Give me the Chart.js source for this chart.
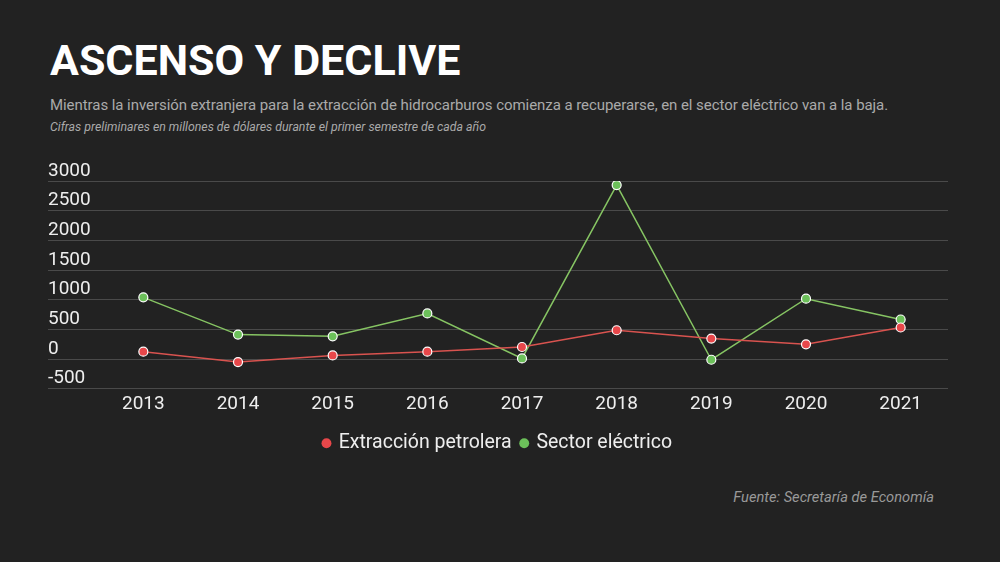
<!DOCTYPE html>
<html lang="es">
<head>
<meta charset="utf-8">
<title>Ascenso y declive</title>
<script src="https://cdn.jsdelivr.net/npm/chart.js@4"></script>
<style>
    html, body {
        margin: 0;
        padding: 0;
        width: 1000px;
        height: 562px;
        background: #222222;
        font-family: Roboto, "Noto Sans", sans-serif;
        overflow: hidden;
    }
    .txt {
        position: absolute;
        white-space: nowrap;
    }
    #titulo {
        left: 50px;
        top: 39px;
        font-size: 43px;
        line-height: 43px;
        font-weight: 700;
        color: #ffffff;
    }
    #bajada {
        left: 50px;
        top: 98px;
        font-size: 15px;
        line-height: 15px;
        letter-spacing: -0.06px;
        color: #aaaaaa;
    }
    #nota {
        left: 50px;
        top: 121px;
        font-size: 12.3px;
        line-height: 12px;
        font-style: italic;
        color: #aaaaaa;
    }
    #fuente {
        right: 66px;
        top: 490px;
        font-size: 14.7px;
        line-height: 14px;
        font-style: italic;
        color: #999999;
    }
    #wrap {
        position: absolute;
        left: 0;
        top: 150px;
        width: 1000px;
        height: 313px;
    }
</style>
</head>
<body>
<div class="txt" id="titulo">ASCENSO Y DECLIVE</div>
<div class="txt" id="bajada">Mientras la inversión extranjera para la extracción de hidrocarburos comienza a recuperarse, en el sector eléctrico van a la baja.</div>
<div class="txt" id="nota">Cifras preliminares en millones de dólares durante el primer semestre de cada año</div>
<div class="txt" id="fuente">Fuente: Secretaría de Economía</div>
<div id="wrap"><canvas id="chartInversion"></canvas></div>

<script>
// años del periodo
const anios = ['2013', '2014', '2015', '2016', '2017', '2018', '2019', '2020', '2021'];

// millones de dólares
const extraccionPetrolera = [124, -51, 61, 124, 203, 485, 344, 248, 531];
const sectorElectrico = [1039, 412, 383, 768, 10, 2932, -12, 1017, 666];

const ejeY = { min: -500, max: 3000, paso: 500 };

const rojo = '#e8474a';
const verde = '#6cc05a';

Chart.defaults.font.family = 'Roboto, "Noto Sans", sans-serif';
Chart.defaults.color = '#eeeeee';

var chartInversion = new Chart(document.getElementById('chartInversion'), {
    type: 'line',
    data: {
        labels: anios,
        datasets: [{
            label: 'Extracción petrolera',
            data: extraccionPetrolera,
            borderColor: '#d9534f',
            backgroundColor: rojo,
            borderWidth: 1.5,
            pointRadius: 4.5,
            pointHoverRadius: 5,
            pointBackgroundColor: rojo,
            pointBorderColor: '#ffffff',
            pointBorderWidth: 1.2,
            tension: 0
        }, {
            label: 'Sector eléctrico',
            data: sectorElectrico,
            borderColor: '#86c463',
            backgroundColor: verde,
            borderWidth: 1.5,
            pointRadius: 4.5,
            pointHoverRadius: 5,
            pointBackgroundColor: verde,
            pointBorderColor: '#ffffff',
            pointBorderWidth: 1.2,
            tension: 0
        }]
    },
    options: {
        responsive: true,
        maintainAspectRatio: false,
        animation: false,
        layout: {
            padding: { left: 48, right: 52, top: 31, bottom: 0 }
        },
        plugins: {
            legend: {
                position: 'bottom',
                labels: {
                    usePointStyle: true,
                    pointStyle: 'circle',
                    boxWidth: 5,
                    boxHeight: 7,
                    padding: 10,
                    color: '#eeeeee',
                    font: { size: 19.5 },
                    generateLabels: function (chart) {
                        // puntos de la leyenda sin borde blanco
                        return Chart.defaults.plugins.legend.labels.generateLabels(chart).map(item => {
                            item.strokeStyle = item.fillStyle;
                            item.lineWidth = 0;
                            return item;
                        });
                    }
                }
            },
            tooltip: { enabled: false }
        },
        scales: {
            x: {
                offset: true,
                afterFit: function (scale) {
                    // un poco más de aire antes de la leyenda
                    scale.height = scale.height + 4;
                },
                grid: { display: false, drawTicks: false },
                border: { display: false },
                ticks: {
                    color: '#eeeeee',
                    padding: 4,
                    font: { size: 19 }
                }
            },
            y: {
                min: ejeY.min,
                max: ejeY.max,
                afterFit: function (scale) {
                    scale.width = 48;
                },
                grid: {
                    color: '#4a4a4a',
                    lineWidth: 1,
                    drawTicks: true,
                    tickLength: 48
                },
                border: { display: false },
                ticks: {
                    stepSize: ejeY.paso,
                    crossAlign: 'far',
                    labelOffset: -10,
                    padding: 0,
                    color: '#eeeeee',
                    font: { size: 19 },
                    callback: value => String(value)
                }
            }
        }
    }
});
</script>
</body>
</html>
